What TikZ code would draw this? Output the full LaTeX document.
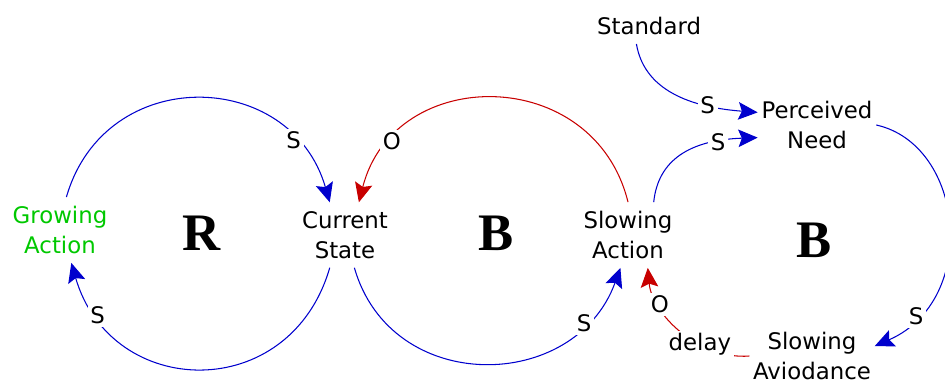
\documentclass[tikz,border=0pt]{standalone}
\usepackage{fontspec}
\setmainfont{DejaVu Sans}
\newfontfamily\loopfont{Liberation Serif}
\usetikzlibrary{arrows.meta}
\definecolor{linkblue}{RGB}{0,0,205}
\definecolor{linkred}{RGB}{200,0,0}
\definecolor{actgreen}{RGB}{0,200,0}

\begin{document}
\begin{tikzpicture}[x=0.02cm, y=-0.02cm,
  every node/.style={font=\fontsize{13}{17}\selectfont},
  var/.style={align=center, inner xsep=2pt, inner ysep=5pt},
  loopname/.style={font=\loopfont\bfseries\fontsize{30}{30}\selectfont},
  pol/.style={fill=white, inner sep=1.5pt},
  slink/.style={draw=linkblue, line width=0.6pt,
                -{Stealth[length=11pt,width=10pt,inset=2pt]}},
  olink/.style={draw=linkred, line width=0.6pt,
                -{Stealth[length=11pt,width=10pt,inset=2pt]}},
]
  \useasboundingbox (0,0) rectangle (945,385);

  \node[var, text=actgreen] (grow) at (60,230) {Growing\\Action};
  \node[var] (curr) at (345,235) {Current\\State};
  \node[var] (slowact) at (628,235) {Slowing\\Action};
  \node[var] (std) at (649,26) {Standard};
  \node[var] (perc) at (817,125) {Perceived\\Need};
  \node[var] (slowav) at (812,356) {Slowing\\Aviodance};

  \node[loopname] (loopR) at (202,233) {R};
  \node[loopname] (loopB1) at (496,233) {B};
  \node[loopname] (loopB2) at (814,240) {B};

  \draw[slink] (grow.79) .. controls (105,63) and (291,68) ..
    node[pol, pos=0.81] {S} (curr.115);
  \draw[slink] (curr.245) .. controls (290,405) and (111,400) ..
    node[pol, pos=0.85] {S} (grow.289);
  \draw[olink] (slowact.north) .. controls (594,64) and (394,64) ..
    node[pol, pos=0.82] {O} (curr.67);
  \draw[slink] (curr.286) .. controls (391,396) and (575,393) ..
    node[pol, pos=0.82] {S} (slowact.257);
  \draw[slink] (std.235) .. controls (645,95) and (700,108) ..
    node[pol, pos=0.7] {S} (perc.168);
  \draw[slink] (slowact.52) .. controls (658,160) and (690,140) ..
    node[pol, pos=0.78] {S} (perc.192);
  \draw[slink] (perc.east) .. controls (965,145) and (980,300) ..
    node[pol, pos=0.84] {S} (slowav.9);
  \draw[olink] (slowav.west) .. controls (700,360) and (652,315) ..
    node[pol, pos=0.35] {delay} node[pol, pos=0.73] {O} (slowact.301);
\end{tikzpicture}
\end{document}
